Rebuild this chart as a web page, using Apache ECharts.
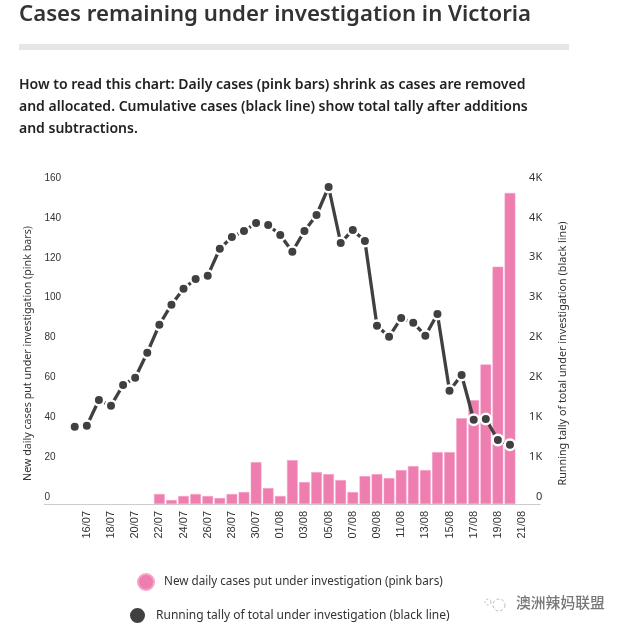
<!DOCTYPE html>
<html><head><meta charset="utf-8">
<style>html,body{margin:0;padding:0;background:#fff}#c{width:624px;height:631px}</style>
<script src="https://cdn.jsdelivr.net/npm/echarts@6/dist/echarts.min.js"></script></head>
<body><div id="c"></div>
<script>
const categories = ['','','15/07','16/07','17/07','18/07','19/07','20/07','21/07','22/07','23/07','24/07','25/07','26/07','27/07','28/07','29/07','30/07','31/07','01/08','02/08','03/08','04/08','05/08','06/08','07/08','08/08','09/08','10/08','11/08','12/08','13/08','14/08','15/08','16/08','17/08','18/08','19/08','20/08','21/08',''];
const dailyCases = [null,null,null,null,null,null,null,null,null,5,2,4,5,4,3,5,6,21,8,4,22,11,16,15,12,6,14,15,13,17,19,17,26,26,43,52,70,119,156,null,null];
const runningTally = [null,null,969,982,1304,1233,1492,1584,1897,2248,2499,2700,2821,2863,3201,3348,3423,3524,3499,3373,3164,3423,3624,3975,3273,3436,3298,2236,2098,2332,2273,2110,2383,1421,1618,1057,1066,803,744,null,null];
const titleText = 'Cases remaining under investigation in Victoria';
const introLines = ['How to read this chart: Daily cases (pink bars) shrink as cases are removed','and allocated. Cumulative cases (black line) show total tally after additions','and subtractions.'];
const leftName = 'New daily cases put under investigation (pink bars)';
const rightName = 'Running tally of total under investigation (black line)';
const watermark = '澳洲辣妈联盟';

const chart = echarts.init(document.getElementById('c'), null, {renderer:'canvas'});
const uiFont = '"Noto Sans","Open Sans",sans-serif';
chart.setOption({
  animation:false,
  backgroundColor:'#fff',
  title:{text:titleText,left:14,top:-1,textStyle:{fontFamily:uiFont,fontSize:22.2,fontWeight:600,color:'#333'}},
  legend:[
    {data:[leftName],left:137,top:573,padding:0,icon:'circle',itemWidth:16,itemHeight:16,itemGap:0,textStyle:{fontFamily:uiFont,fontSize:11.7,color:'#333',padding:[0,0,0,5]}},
    {data:[rightName],left:128,top:606,padding:0,icon:'circle',itemWidth:17,itemHeight:17,itemGap:0,textStyle:{fontFamily:uiFont,fontSize:12,color:'#333',padding:[0,0,0,5]}}
  ],
  grid:{left:44.5,top:185,width:495.7,height:319,containLabel:false},
  xAxis:{type:'category',data:categories,boundaryGap:true,
    axisLine:{show:true,lineStyle:{color:'#ccc',width:1}},axisTick:{show:false},splitLine:{show:false},
    axisLabel:{rotate:90,margin:7,fontFamily:'"Liberation Sans",Arial,sans-serif',fontSize:11,color:'#333',
      interval:(i,v)=>i%2===1&&v!==''}},
  yAxis:[
    {type:'value',min:0,max:160,interval:20,name:leftName,nameLocation:'middle',nameRotate:90,nameGap:10,
      nameTextStyle:{fontFamily:uiFont,fontSize:10.7,color:'#333',padding:[0,18,0,0]},
      axisLine:{show:false},axisTick:{show:false},splitLine:{show:false},
      axisLabel:{align:'left',verticalAlign:'bottom',margin:0,padding:[0,0,2,0],fontFamily:'"Liberation Sans",Arial,sans-serif',fontSize:10,color:'#333'}},
    {type:'value',min:0,max:4000,interval:500,position:'right',name:rightName,nameLocation:'middle',nameRotate:90,nameGap:17,
      nameTextStyle:{fontFamily:uiFont,fontSize:10.8,color:'#333',padding:[0,18,0,0]},
      axisLine:{show:false},axisTick:{show:false},splitLine:{show:false},
      axisLabel:{align:'right',verticalAlign:'bottom',margin:2,padding:[0,0,2,0],fontFamily:uiFont,fontSize:11,color:'#333',
        formatter:v=>v===0?'0':Math.round(v/1000)+'K'}}
  ],
  series:[
    {name:leftName,type:'bar',yAxisIndex:0,data:dailyCases,barWidth:10.7,z:2,
      itemStyle:{color:'#ee7eb0',borderColor:'#f5a3c8',borderWidth:0.5}},
    {name:rightName,type:'line',yAxisIndex:1,data:runningTally,z:3,symbol:'circle',symbolSize:10.5,showSymbol:true,showAllSymbol:true,
      connectNulls:false,
      lineStyle:{color:'#404040',width:3.3},
      itemStyle:{color:'#404040',borderColor:'#fff',borderWidth:2.5}}
  ],
  graphic:[
    {type:'rect',shape:{x:19,y:44,width:550,height:6},style:{fill:'#e6e6e6'},silent:true},
    ...introLines.map((t,i)=>({type:'text',x:19,y:78+i*22,style:{text:t,fontFamily:uiFont,fontSize:14,fontWeight:600,fill:'#222'},silent:true})),
    {type:'text',x:516,y:595,style:{text:watermark,fontFamily:'"Noto Sans CJK SC",sans-serif',fontSize:14.8,fontWeight:500,fill:'#777'},silent:true},
    {type:'circle',shape:{cx:499,cy:605,r:6},style:{fill:'none',stroke:'#bbb',lineWidth:1,lineDash:[3,2]},silent:true},
    {type:'circle',shape:{cx:488,cy:602,r:3},style:{fill:'none',stroke:'#bbb',lineWidth:1,lineDash:[2,2]},silent:true}
  ]
});
</script></body></html>
